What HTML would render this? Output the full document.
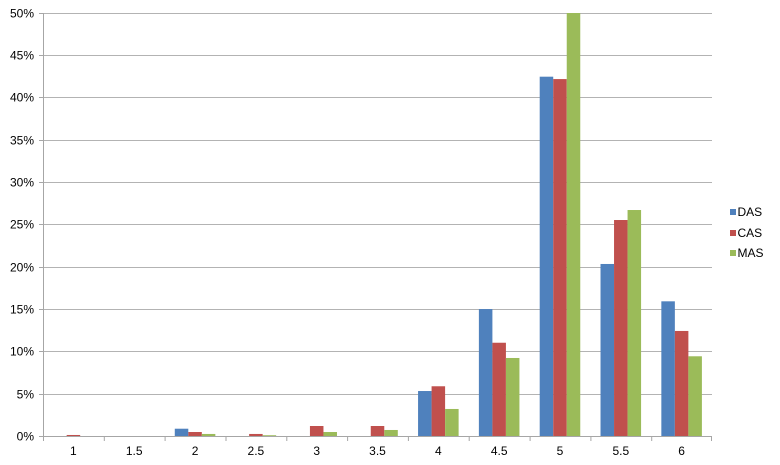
<!DOCTYPE html>
<html><head><meta charset="utf-8"><style>
html,body{margin:0;padding:0;background:#fff;}
svg{display:block;}
text{font-family:"Liberation Sans",Arial,sans-serif;fill:#000;}
</style></head><body>
<svg width="780" height="465" viewBox="0 0 780 465" xmlns="http://www.w3.org/2000/svg">
<rect width="780" height="465" fill="#fff"/>
<g stroke="#B3B3B3" stroke-width="1">
<line x1="39" y1="394.5" x2="712" y2="394.5"/>
<line x1="39" y1="351.5" x2="712" y2="351.5"/>
<line x1="39" y1="309.5" x2="712" y2="309.5"/>
<line x1="39" y1="267.5" x2="712" y2="267.5"/>
<line x1="39" y1="224.5" x2="712" y2="224.5"/>
<line x1="39" y1="182.5" x2="712" y2="182.5"/>
<line x1="39" y1="140.5" x2="712" y2="140.5"/>
<line x1="39" y1="97.5" x2="712" y2="97.5"/>
<line x1="39" y1="55.5" x2="712" y2="55.5"/>
<line x1="39" y1="13.5" x2="712" y2="13.5"/>
</g>
<g fill="#4F81BD">
<rect x="174.78" y="428.71" width="13.52" height="7.79"/>
<rect x="418.06" y="391.02" width="13.52" height="45.48"/>
<rect x="478.88" y="309.03" width="13.52" height="127.47"/>
<rect x="539.70" y="76.69" width="13.52" height="359.81"/>
<rect x="600.52" y="263.97" width="13.52" height="172.53"/>
<rect x="661.34" y="301.32" width="13.52" height="135.18"/>
</g>
<g fill="#C0504D">
<rect x="66.66" y="434.98" width="13.52" height="1.52"/>
<rect x="188.30" y="432.01" width="13.52" height="4.49"/>
<rect x="249.12" y="433.96" width="13.52" height="2.54"/>
<rect x="309.94" y="426.0" width="13.52" height="10.5"/>
<rect x="370.76" y="426.0" width="13.52" height="10.5"/>
<rect x="431.58" y="386.27" width="13.52" height="50.23"/>
<rect x="492.40" y="342.74" width="13.52" height="93.76"/>
<rect x="553.22" y="79.07" width="13.52" height="357.43"/>
<rect x="614.04" y="220.01" width="13.52" height="216.49"/>
<rect x="674.86" y="330.96" width="13.52" height="105.54"/>
</g>
<g fill="#9BBB59">
<rect x="201.82" y="433.96" width="13.52" height="2.54"/>
<rect x="262.64" y="435.23" width="13.52" height="1.27"/>
<rect x="323.46" y="432.01" width="13.52" height="4.49"/>
<rect x="384.28" y="429.98" width="13.52" height="6.52"/>
<rect x="445.10" y="408.97" width="13.52" height="27.53"/>
<rect x="505.92" y="357.98" width="13.52" height="78.52"/>
<rect x="566.74" y="13" width="13.52" height="423.5"/>
<rect x="627.56" y="210.01" width="13.52" height="226.49"/>
<rect x="688.38" y="356.29" width="13.52" height="80.21"/>
</g>
<g stroke="#A6A6A6" stroke-width="1">
<line x1="43.5" y1="13" x2="43.5" y2="437"/>
<line x1="39" y1="436.5" x2="712" y2="436.5"/>
<line x1="39" y1="394.5" x2="43" y2="394.5"/>
<line x1="39" y1="351.5" x2="43" y2="351.5"/>
<line x1="39" y1="309.5" x2="43" y2="309.5"/>
<line x1="39" y1="267.5" x2="43" y2="267.5"/>
<line x1="39" y1="224.5" x2="43" y2="224.5"/>
<line x1="39" y1="182.5" x2="43" y2="182.5"/>
<line x1="39" y1="140.5" x2="43" y2="140.5"/>
<line x1="39" y1="97.5" x2="43" y2="97.5"/>
<line x1="39" y1="55.5" x2="43" y2="55.5"/>
<line x1="39" y1="13.5" x2="43" y2="13.5"/>
<line x1="43.5" y1="436" x2="43.5" y2="441"/>
<line x1="104.3" y1="436" x2="104.3" y2="441"/>
<line x1="165.1" y1="436" x2="165.1" y2="441"/>
<line x1="226" y1="436" x2="226" y2="441"/>
<line x1="286.8" y1="436" x2="286.8" y2="441"/>
<line x1="347.6" y1="436" x2="347.6" y2="441"/>
<line x1="408.4" y1="436" x2="408.4" y2="441"/>
<line x1="469.2" y1="436" x2="469.2" y2="441"/>
<line x1="530.1" y1="436" x2="530.1" y2="441"/>
<line x1="590.9" y1="436" x2="590.9" y2="441"/>
<line x1="651.7" y1="436" x2="651.7" y2="441"/>
<line x1="711.5" y1="436" x2="711.5" y2="441"/>
</g>
<g font-size="12" text-anchor="end">
<text x="34" y="440.5">0%</text>
<text x="34" y="398.5">5%</text>
<text x="34" y="355.5">10%</text>
<text x="34" y="313.5">15%</text>
<text x="34" y="271.5">20%</text>
<text x="34" y="228.5">25%</text>
<text x="34" y="186.5">30%</text>
<text x="34" y="144.5">35%</text>
<text x="34" y="101.5">40%</text>
<text x="34" y="59.5">45%</text>
<text x="34" y="17.5">50%</text>
</g>
<g font-size="12" text-anchor="middle">
<text x="73.4" y="455">1</text>
<text x="134.2" y="455">1.5</text>
<text x="195.1" y="455">2</text>
<text x="255.9" y="455">2.5</text>
<text x="316.7" y="455">3</text>
<text x="377.5" y="455">3.5</text>
<text x="438.3" y="455">4</text>
<text x="499.2" y="455">4.5</text>
<text x="560" y="455">5</text>
<text x="620.8" y="455">5.5</text>
<text x="681.6" y="455">6</text>
</g>
<rect x="730" y="209" width="6" height="6" fill="#4F81BD"/>
<rect x="730" y="230" width="6" height="6" fill="#C0504D"/>
<rect x="730" y="250" width="6" height="6" fill="#9BBB59"/>
<g font-size="12">
<text x="737.5" y="216">DAS</text>
<text x="737.5" y="237">CAS</text>
<text x="737.5" y="257">MAS</text>
</g>
</svg>
</body></html>
